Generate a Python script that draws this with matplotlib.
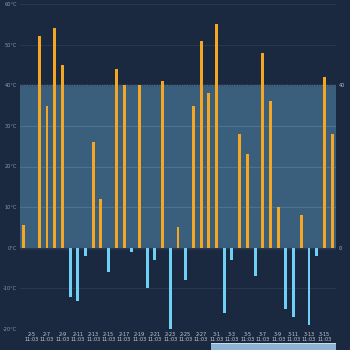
import numpy as np
import matplotlib
matplotlib.use("Agg")
import matplotlib.pyplot as plt
from matplotlib.patches import Rectangle

# daily temperature, 2-4 .. 3-16
days = ["2-4", "2-5", "2-6", "2-7", "2-8", "2-9", "2-10", "2-11", "2-12", "2-13",
        "2-14", "2-15", "2-16", "2-17", "2-18", "2-19", "2-20", "2-21", "2-22", "2-23",
        "2-24", "2-25", "2-26", "2-27", "2-28", "3-1", "3-2", "3-3", "3-4", "3-5",
        "3-6", "3-7", "3-8", "3-9", "3-10", "3-11", "3-12", "3-13", "3-14", "3-15", "3-16"]
temps = [5.7, 0, 52, 35, 54, 45, -12, -13, -2, 26,
         12, -6, 44, 40, -1, 40, -10, -3, 41, -20,
         5, -8, 35, 51, 38, 55, -16, -3, 28, 23,
         -7, 48, 36, 10, -15, -17, 8, -19, -2, 42, 28]
time_label = "11:03"
yticks = [-20, -10, 0, 10, 20, 30, 40, 50, 60]
band = (0, 40)

bg = "#1b2940"
orange = "#f5a623"
blue = "#6fd0f5"
txt = "#8a97aa"

fig = plt.figure(figsize=(3.5, 3.5), dpi=100, facecolor=bg)
ax = fig.add_axes([20/350, 21/350, 316/350, 325/350], facecolor=bg)

x = np.arange(len(days))
vals = np.array(temps)

# shaded band
ax.axhspan(band[0], band[1], color="#3a5f7d", zorder=0)
ax.axhline(band[1], color="#6b8aa5", lw=0.6, ls=(0, (1, 1)), zorder=1)

for t in yticks:
    if band[0] < t < band[1]:
        ax.axhline(t, color="#4d7290", lw=0.8, zorder=0.5)
    else:
        ax.axhline(t, color="#26374f", lw=0.8, zorder=0.5)

pos = np.where(vals > 0, vals, 0)
neg = np.where(vals < 0, vals, 0)
ax.bar(x[vals > 0], pos[vals > 0], width=0.38, color=orange, zorder=3)
ax.bar(x[vals < 0], neg[vals < 0], width=0.38, color=blue, zorder=3)

ax.set_xlim(-0.5, len(days) - 0.5)
ax.set_ylim(-20, 60)
ax.set_yticks(yticks)
ax.set_yticklabels([f"{t}°C" for t in yticks], color=txt, fontsize=3.6)
lab_idx = x[1::2]
ax.set_xticks(lab_idx)
ax.set_xticklabels([f"{days[i]}\n{time_label}" for i in lab_idx], color="#c5ccd6",
                   fontsize=3.6, linespacing=1.1)
ax.tick_params(axis="both", length=0, pad=2)
for s in ax.spines.values():
    s.set_visible(False)

# right side labels for band
ax2 = ax.twinx()
ax2.set_ylim(-20, 60)
ax2.set_yticks(list(band))
ax2.set_yticklabels([str(b) for b in band], color="#b0b8c4", fontsize=3.6)
ax2.tick_params(length=0, pad=2)
for s in ax2.spines.values():
    s.set_visible(False)

# data zoom slider at the bottom
fig.patches.append(Rectangle((211/350, 0), 125/350, 7/350, transform=fig.transFigure,
                             facecolor="#8fb4d2", edgecolor="none"))
fig.patches.append(Rectangle((211/350, 6/350), 125/350, 1/350, transform=fig.transFigure,
                             facecolor="#c8dcec", edgecolor="none"))

fig.savefig("out.png", dpi=100, facecolor=bg)
